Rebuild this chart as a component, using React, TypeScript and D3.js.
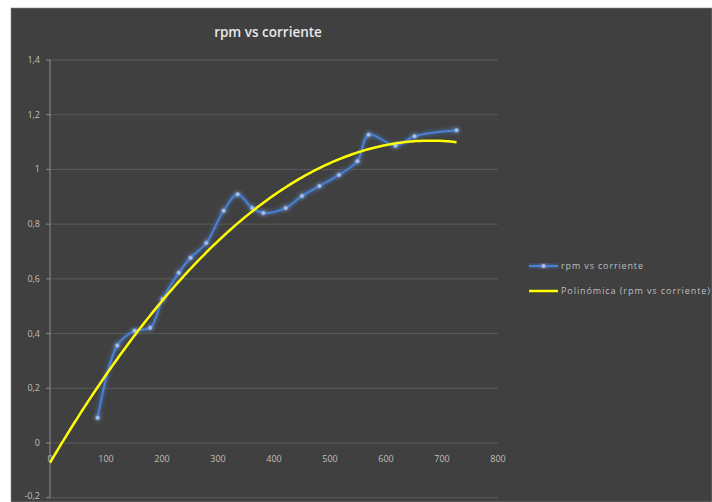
import React from "react";
import * as d3 from "d3";

const corriente = [85, 120, 151, 179, 201, 230, 251, 279, 310, 335, 361, 381, 421, 450, 481, 516, 549, 569, 617, 651, 726];
const rpm = [0.092, 0.356, 0.41, 0.421, 0.526, 0.622, 0.677, 0.731, 0.849, 0.909, 0.859, 0.841, 0.859, 0.903, 0.939, 0.98, 1.03, 1.127, 1.087, 1.121, 1.143];
const xTicks = [0, 100, 200, 300, 400, 500, 600, 700, 800];
const yTicks = [-0.2, 0, 0.2, 0.4, 0.6, 0.8, 1, 1.2, 1.4];
const title = "rpm vs corriente";
const seriesName = "rpm vs corriente";
const trendName = "Polinómica (rpm vs corriente)";

function quadFit(xs: number[], ys: number[]) {
  // least squares y = a + b x + c x^2
  const n = xs.length;
  let s0 = n, s1 = 0, s2 = 0, s3 = 0, s4 = 0, t0 = 0, t1 = 0, t2 = 0;
  for (let i = 0; i < n; i++) {
    const x = xs[i], y = ys[i];
    s1 += x; s2 += x * x; s3 += x * x * x; s4 += x * x * x * x;
    t0 += y; t1 += x * y; t2 += x * x * y;
  }
  const M = [[s0, s1, s2, t0], [s1, s2, s3, t1], [s2, s3, s4, t2]];
  for (let i = 0; i < 3; i++) {
    let p = i;
    for (let r = i + 1; r < 3; r++) if (Math.abs(M[r][i]) > Math.abs(M[p][i])) p = r;
    [M[i], M[p]] = [M[p], M[i]];
    for (let r = 0; r < 3; r++) {
      if (r === i) continue;
      const f = M[r][i] / M[i][i];
      for (let c = i; c < 4; c++) M[r][c] -= f * M[i][c];
    }
  }
  return [M[0][3] / M[0][0], M[1][3] / M[1][1], M[2][3] / M[2][2]];
}

export default function App() {
  const W = 712, H = 502;
  const x = d3.scaleLinear().domain([0, 800]).range([50, 498]);
  const y = d3.scaleLinear().domain([-0.2, 1.4]).range([497.7, 60]);
  const pts = corriente.map((c, i) => [c, rpm[i]] as [number, number]);
  const line = d3.line<[number, number]>().x(d => x(d[0])).y(d => y(d[1])).curve(d3.curveCatmullRom.alpha(0.5));
  const [a, b, c] = quadFit(corriente, rpm);
  const xmax = d3.max(corriente) as number;
  const trendPts: [number, number][] = d3.range(0, xmax + 0.001, xmax / 200).map(v => [v, a + b * v + c * v * v]);
  const trend = d3.line<[number, number]>().x(d => x(d[0])).y(d => y(d[1]));
  const font = "'Open Sans', 'Liberation Sans', sans-serif";
  const txt = "#bfbfbf";
  return (
    <svg width={W} height={H} style={{ position: "absolute", left: 0, top: 0 }}>
      <defs>
        <filter id="glow" x="-10%" y="-10%" width="120%" height="120%">
          <feGaussianBlur in="SourceGraphic" stdDeviation="2.2" result="b" />
          <feMerge>
            <feMergeNode in="b" />
            <feMergeNode in="SourceGraphic" />
          </feMerge>
        </filter>
      </defs>
      <rect x={0} y={0} width={W} height={H} fill="#ffffff" />
      <rect x={11} y={8} width={W - 11} height={H - 8} fill="#404040" stroke="#8a8a8a" strokeWidth={0.6} />
      <text x={268} y={37} textAnchor="middle" fill="#e8e8e8" fontFamily={font} fontWeight={600} fontSize={13.5}>{title}</text>
      {yTicks.map(t => (
        <g key={t}>
          <line x1={50} x2={498} y1={y(t)} y2={y(t)} stroke="#5a5a5a" strokeWidth={1} />
          <line x1={46} x2={50} y1={y(t)} y2={y(t)} stroke="#8c8c8c" strokeWidth={1} />
          <text x={40} y={Math.min(y(t) + 3, 499)} textAnchor="end" fill={txt} fontFamily={font} fontSize={9}>{String(Math.round(t * 10) / 10).replace(".", ",")}</text>
        </g>
      ))}
      <line x1={50} x2={50} y1={60} y2={497.7} stroke="#8c8c8c" strokeWidth={1} />
      {xTicks.map(t => (
        <text key={t} x={x(t)} y={462} textAnchor="middle" fill={txt} fontFamily={font} fontSize={9}>{t}</text>
      ))}
      <g filter="url(#glow)">
        <path d={line(pts) || ""} fill="none" stroke="#4a7fd4" strokeWidth={2} />
        {pts.map((p, i) => (
          <circle key={i} cx={x(p[0])} cy={y(p[1])} r={2} fill="#a9c2ec" stroke="#6f98dc" strokeWidth={0.6} />
        ))}
      </g>
      <path d={trend(trendPts) || ""} fill="none" stroke="#ffff00" strokeWidth={2.5} />
      <g filter="url(#glow)">
        <line x1={529} x2={558} y1={266} y2={266} stroke="#4a7fd4" strokeWidth={2} />
        <circle cx={543.5} cy={266} r={2} fill="#a9c2ec" />
      </g>
      <text x={561} y={269} fill={txt} fontFamily={font} fontSize={9} textLength={82}>{seriesName}</text>
      <line x1={529} x2={558} y1={291} y2={291} stroke="#ffff00" strokeWidth={2.5} />
      <text x={561} y={294} fill={txt} fontFamily={font} fontSize={9} textLength={149}>{trendName}</text>
    </svg>
  );
}
